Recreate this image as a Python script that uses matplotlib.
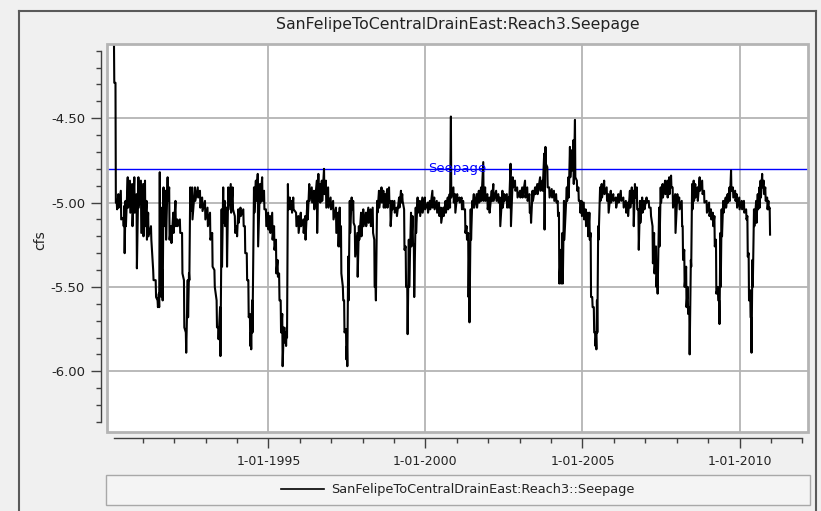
import matplotlib
matplotlib.use("Agg")
import matplotlib.pyplot as plt
from matplotlib.patches import Rectangle
from matplotlib.lines import Line2D
from matplotlib.ticker import FixedLocator, FuncFormatter
import numpy as np

title = "SanFelipeToCentralDrainEast:Reach3.Seepage"
series_name = "SanFelipeToCentralDrainEast:Reach3::Seepage"
threshold = -4.80
threshold_label = "Seepage"
year_ticks = [1995, 2000, 2005, 2010]
year_labels = ["1-01-1995", "1-01-2000", "1-01-2005", "1-01-2010"]
y_ticks = [-6.00, -5.50, -5.00, -4.50]

# decimal year, with the upper and lower edge of the daily band at that date
t = [
    1990.08, 1990.13, 1990.17, 1990.22, 1990.30, 1990.38, 1990.41, 1990.45, 1990.52, 1990.59, 1990.66, 1990.73, 1990.80, 1990.86, 1990.94,
    1991.01, 1991.07, 1991.12, 1991.17, 1991.26, 1991.33, 1991.41, 1991.47, 1991.51, 1991.54, 1991.58, 1991.62, 1991.66, 1991.73, 1991.79, 1991.84, 1991.90, 1991.97,
    1992.04, 1992.10, 1992.18, 1992.25, 1992.31, 1992.37, 1992.43, 1992.47, 1992.51, 1992.57, 1992.66, 1992.75, 1992.82, 1992.89, 1992.98,
    1993.06, 1993.14, 1993.21, 1993.28, 1993.35, 1993.40, 1993.46, 1993.51, 1993.56, 1993.61, 1993.67, 1993.72, 1993.80, 1993.86, 1993.93, 1993.99,
    1994.04, 1994.11, 1994.20, 1994.25, 1994.31, 1994.36, 1994.41, 1994.44, 1994.48, 1994.54, 1994.60, 1994.66, 1994.73, 1994.80, 1994.86, 1994.92, 1994.99,
    1995.05, 1995.12, 1995.18, 1995.24, 1995.29, 1995.34, 1995.39, 1995.44, 1995.49, 1995.55, 1995.58, 1995.62, 1995.68, 1995.74, 1995.79, 1995.88, 1995.95,
    1996.03, 1996.11, 1996.17, 1996.24, 1996.30, 1996.38, 1996.45, 1996.54, 1996.59, 1996.64, 1996.70, 1996.77, 1996.83, 1996.90, 1996.98,
    1997.06, 1997.15, 1997.22, 1997.27, 1997.31, 1997.37, 1997.41, 1997.47, 1997.50, 1997.54, 1997.59, 1997.65, 1997.70, 1997.75, 1997.83, 1997.88, 1997.95,
    1998.02, 1998.10, 1998.18, 1998.25, 1998.32, 1998.37, 1998.41, 1998.46, 1998.52, 1998.60, 1998.66, 1998.71, 1998.78, 1998.84, 1998.88, 1998.94,
    1999.01, 1999.08, 1999.16, 1999.22, 1999.26, 1999.32, 1999.37, 1999.42, 1999.47, 1999.54, 1999.59, 1999.63, 1999.69, 1999.75, 1999.82, 1999.90, 1999.98,
    2000.07, 2000.14, 2000.22, 2000.28, 2000.36, 2000.43, 2000.49, 2000.57, 2000.64, 2000.71, 2000.77, 2000.81, 2000.89, 2000.94,
    2001.01, 2001.08, 2001.15, 2001.20, 2001.26, 2001.31, 2001.36, 2001.39, 2001.44, 2001.49, 2001.54, 2001.63, 2001.70, 2001.77, 2001.84, 2001.90, 2001.97,
    2002.03, 2002.11, 2002.16, 2002.25, 2002.32, 2002.37, 2002.45, 2002.51, 2002.59, 2002.65, 2002.71, 2002.78, 2002.85, 2002.92,
    2003.01, 2003.08, 2003.17, 2003.24, 2003.31, 2003.35, 2003.41, 2003.49, 2003.56, 2003.65, 2003.72, 2003.78, 2003.82, 2003.88, 2003.94,
    2004.02, 2004.09, 2004.16, 2004.21, 2004.25, 2004.31, 2004.36, 2004.41, 2004.50, 2004.55, 2004.60, 2004.66, 2004.71, 2004.76, 2004.82, 2004.87, 2004.92, 2004.97,
    2005.04, 2005.10, 2005.17, 2005.22, 2005.26, 2005.31, 2005.36, 2005.40, 2005.43, 2005.46, 2005.50, 2005.56, 2005.61, 2005.69, 2005.77, 2005.82, 2005.90, 2005.98,
    2006.06, 2006.14, 2006.22, 2006.30, 2006.38, 2006.44, 2006.51, 2006.57, 2006.62, 2006.67, 2006.73, 2006.78, 2006.83, 2006.90, 2006.96,
    2007.04, 2007.11, 2007.17, 2007.23, 2007.28, 2007.34, 2007.38, 2007.44, 2007.49, 2007.55, 2007.63, 2007.70, 2007.76, 2007.82, 2007.87, 2007.95,
    2008.02, 2008.08, 2008.16, 2008.19, 2008.24, 2008.30, 2008.35, 2008.40, 2008.45, 2008.49, 2008.54, 2008.59, 2008.66, 2008.73, 2008.81, 2008.87, 2008.95,
    2009.03, 2009.09, 2009.15, 2009.20, 2009.25, 2009.31, 2009.35, 2009.39, 2009.43, 2009.48, 2009.56, 2009.62, 2009.68, 2009.73, 2009.79, 2009.86, 2009.91, 2009.99,
    2010.07, 2010.14, 2010.21, 2010.25, 2010.29, 2010.34, 2010.37, 2010.41, 2010.46, 2010.53, 2010.58, 2010.63, 2010.67, 2010.72, 2010.77, 2010.82, 2010.88, 2010.92, 2010.96,
]
hi = [
    -4.00, -4.29, -5.00, -4.95, -4.93, -5.09, -5.02, -4.99, -4.85, -4.87, -4.89, -4.85, -4.95, -4.85, -4.87,
    -4.89, -4.87, -4.99, -5.06, -5.14, -5.40, -5.46, -5.58, -5.54, -4.82, -5.03, -5.40, -4.91, -4.93, -4.85, -4.91, -5.14, -5.06,
    -4.99, -5.10, -5.10, -5.18, -5.46, -5.77, -5.46, -5.42, -4.91, -4.91, -4.91, -4.91, -4.93, -4.97, -4.99,
    -5.03, -5.06, -5.18, -5.40, -5.58, -5.74, -5.62, -5.04, -4.91, -4.99, -5.03, -4.91, -4.89, -4.91, -5.08, -5.14,
    -5.04, -5.03, -5.04, -5.14, -5.30, -5.46, -5.66, -5.77, -5.58, -4.91, -4.87, -4.83, -4.89, -4.85, -4.93, -5.04, -5.06,
    -5.08, -5.06, -5.14, -5.22, -5.34, -5.42, -5.58, -5.66, -5.74, -5.77, -5.74, -4.89, -4.97, -4.99, -4.97, -5.06, -5.08,
    -5.06, -5.10, -5.08, -4.99, -4.89, -4.91, -4.93, -4.87, -4.83, -4.89, -4.87, -4.80, -4.87, -4.91, -4.97,
    -4.99, -5.03, -5.06, -5.03, -5.14, -5.50, -5.58, -5.75, -5.85, -5.32, -4.99, -4.97, -4.99, -5.14, -5.18, -5.14, -5.06,
    -5.04, -5.06, -5.03, -5.04, -5.03, -5.22, -5.50, -4.99, -4.93, -4.91, -4.93, -4.95, -4.92, -4.91, -4.99, -4.99,
    -4.99, -5.03, -4.97, -4.93, -4.95, -5.04, -5.26, -5.50, -5.22, -5.06, -5.08, -5.26, -5.03, -4.97, -4.99, -4.97, -4.97,
    -5.00, -4.99, -4.93, -4.97, -4.99, -5.00, -5.03, -5.03, -4.99, -4.97, -4.95, -4.49, -4.91, -4.95,
    -4.95, -4.97, -4.97, -4.99, -5.04, -5.14, -5.18, -5.30, -5.04, -4.99, -4.95, -4.95, -4.93, -4.91, -4.76, -4.91, -4.95,
    -4.97, -4.93, -4.89, -4.93, -4.95, -4.97, -4.93, -4.95, -4.95, -4.97, -4.77, -4.85, -4.87, -4.91,
    -4.93, -4.91, -4.87, -4.91, -4.95, -5.04, -4.93, -4.91, -4.89, -4.85, -4.87, -4.71, -4.67, -4.79, -4.91,
    -4.92, -4.93, -4.95, -4.99, -5.06, -5.28, -5.18, -4.99, -4.91, -4.85, -4.67, -4.69, -4.63, -4.51, -4.87, -4.91, -4.99, -4.99,
    -5.00, -5.04, -5.06, -5.06, -5.18, -5.56, -5.62, -5.77, -5.80, -5.58, -5.14, -4.91, -4.89, -4.87, -4.91, -4.95, -4.93, -4.95,
    -4.97, -4.95, -4.93, -4.97, -4.99, -5.00, -4.93, -4.91, -4.93, -4.89, -4.91, -5.04, -4.99, -4.97, -4.99,
    -4.97, -4.99, -5.03, -5.14, -5.18, -5.26, -5.40, -5.03, -4.91, -4.89, -4.87, -4.87, -4.85, -4.84, -4.91, -4.95,
    -4.95, -4.97, -4.99, -5.14, -5.28, -5.38, -5.50, -5.62, -5.34, -4.89, -4.87, -4.89, -4.91, -4.85, -4.87, -4.93, -4.99,
    -5.00, -5.04, -5.06, -5.08, -5.22, -5.50, -5.58, -5.18, -5.04, -4.99, -4.97, -4.95, -4.91, -4.81, -4.91, -4.93, -4.95, -4.97,
    -4.99, -4.99, -5.04, -5.08, -5.30, -5.52, -5.68, -5.34, -5.04, -4.99, -4.95, -4.91, -4.87, -4.83, -4.87, -4.91, -4.97, -4.99, -5.03,
]
lo = [
    -4.29, -5.00, -5.04, -5.03, -5.10, -5.14, -5.30, -5.14, -5.03, -5.06, -5.14, -5.06, -5.39, -5.03, -5.18,
    -5.20, -5.14, -5.22, -5.20, -5.22, -5.46, -5.56, -5.62, -5.62, -5.30, -5.56, -5.58, -5.14, -5.22, -4.99, -5.22, -5.24, -5.18,
    -5.14, -5.14, -5.18, -5.42, -5.74, -5.89, -5.68, -5.46, -5.05, -5.10, -4.99, -4.97, -5.03, -5.05, -5.10,
    -5.14, -5.22, -5.38, -5.50, -5.74, -5.81, -5.91, -5.38, -5.12, -5.14, -5.38, -5.04, -5.06, -5.04, -5.18, -5.20,
    -5.12, -5.08, -5.14, -5.30, -5.46, -5.68, -5.85, -5.87, -5.77, -5.06, -4.99, -5.26, -5.00, -4.99, -5.04, -5.14, -5.16,
    -5.18, -5.22, -5.28, -5.42, -5.44, -5.58, -5.77, -5.97, -5.83, -5.85, -5.80, -5.04, -5.04, -5.06, -5.04, -5.14, -5.18,
    -5.14, -5.18, -5.22, -5.10, -4.99, -5.00, -5.04, -5.18, -4.99, -5.00, -4.99, -4.95, -5.03, -5.03, -5.04,
    -5.10, -5.18, -5.26, -5.26, -5.42, -5.58, -5.77, -5.93, -5.97, -5.58, -5.18, -5.04, -5.12, -5.32, -5.44, -5.22, -5.20,
    -5.14, -5.14, -5.12, -5.14, -5.18, -5.50, -5.58, -5.06, -5.03, -5.00, -5.03, -5.03, -5.03, -5.00, -5.14, -5.04,
    -5.06, -5.08, -5.03, -5.00, -4.99, -5.28, -5.50, -5.78, -5.50, -5.26, -5.24, -5.56, -5.18, -5.06, -5.08, -5.06, -5.04,
    -5.06, -5.04, -5.03, -5.04, -5.06, -5.08, -5.12, -5.08, -5.06, -5.04, -5.03, -4.97, -5.00, -5.06,
    -4.99, -5.00, -5.04, -5.04, -5.18, -5.22, -5.56, -5.71, -5.22, -5.03, -5.03, -5.03, -5.00, -4.99, -4.99, -4.99, -5.04,
    -5.06, -4.99, -4.99, -4.99, -5.00, -5.14, -5.03, -4.99, -5.03, -5.03, -5.14, -4.91, -4.93, -4.97,
    -4.97, -4.97, -4.97, -4.99, -5.06, -5.12, -4.99, -4.95, -4.95, -4.93, -4.93, -5.16, -4.77, -4.91, -4.97,
    -4.97, -4.99, -5.00, -5.08, -5.48, -5.48, -5.48, -5.22, -4.99, -4.97, -4.85, -4.81, -4.89, -4.85, -4.93, -4.99, -5.06, -5.08,
    -5.10, -5.14, -5.20, -5.22, -5.56, -5.62, -5.77, -5.85, -5.87, -5.77, -5.22, -4.99, -4.97, -4.95, -4.99, -5.06, -5.00, -4.99,
    -5.03, -5.00, -4.99, -5.03, -5.06, -5.08, -5.03, -5.00, -5.14, -4.97, -5.04, -5.28, -5.12, -5.06, -5.04,
    -5.00, -5.03, -5.08, -5.36, -5.42, -5.50, -5.54, -5.26, -5.00, -4.97, -4.95, -4.97, -4.95, -4.91, -5.03, -5.18,
    -5.00, -5.04, -5.14, -5.34, -5.50, -5.62, -5.66, -5.90, -5.38, -5.04, -4.99, -4.97, -4.99, -4.93, -4.95, -5.00, -5.06,
    -5.08, -5.10, -5.14, -5.26, -5.54, -5.58, -5.72, -5.50, -5.20, -5.06, -5.03, -5.00, -4.99, -4.93, -4.97, -4.99, -5.03, -5.04,
    -5.04, -5.06, -5.10, -5.32, -5.58, -5.68, -5.89, -5.50, -5.14, -5.12, -5.04, -5.03, -4.97, -4.91, -4.95, -4.99, -5.04, -5.04, -5.19,
]

# the daily noise: go from the upper edge down to the lower edge at every date
tt = np.column_stack([t, np.array(t) + 0.012]).ravel()
vv = np.column_stack([hi, lo]).ravel()

W, H = 821, 511
fig = plt.figure(figsize=(W / 100, H / 100), dpi=100, facecolor="#f0f0f0")
ax = fig.add_axes([107 / W, 1 - 432 / H, 701 / W, 388 / H])
ax.set_facecolor("white")

ax.plot(tt, vv, color="black", lw=1.5, zorder=3)
ax.axhline(threshold, color="#0000ff", lw=1.0, zorder=2)
ax.text(0.5, threshold, threshold_label, transform=ax.get_yaxis_transform(),
        ha="center", va="center", color="#0000ff", fontsize=9.5, zorder=4)

ax.set_xlim(1989.86, 2012.18)
ax.set_ylim(-6.36, -4.06)

ax.set_xticks(year_ticks)
ax.set_xticklabels(year_labels)
ax.xaxis.set_minor_locator(FixedLocator([y for y in range(1991, 2013) if y not in year_ticks]))
ax.set_yticks(y_ticks)
ax.yaxis.set_major_formatter(FuncFormatter(lambda v, p: "%.2f" % v))
ax.yaxis.set_minor_locator(FixedLocator(np.round(np.arange(-6.3, -4.05, 0.1), 2)))

ax.grid(True, which="major", color="#b4b4b4", lw=1.3, zorder=1)
ax.set_axisbelow(True)

for s in ["top", "right"]:
    ax.spines[s].set_visible(False)
ax.spines["left"].set_position(("outward", 4))
ax.spines["bottom"].set_position(("outward", 4.3))
ax.spines["left"].set_bounds(-6.3, -4.1)
ax.spines["bottom"].set_bounds(1990.08, 2012.0)
for s in ["left", "bottom"]:
    ax.spines[s].set_color("#404040")
    ax.spines[s].set_linewidth(1.0)

ax.tick_params(which="major", length=7.5, width=1, color="#404040",
               labelsize=9, labelcolor="#222222")
ax.tick_params(axis="y", which="major", labelsize=9.5, pad=4.3)
ax.tick_params(axis="x", which="major", pad=5)
ax.tick_params(which="minor", length=3.6, width=1, color="#404040")

# gray frame round the plotting area
ax.add_patch(Rectangle((0, 0), 1, 1, transform=ax.transAxes, fill=False,
                       edgecolor="#b4b4b4", lw=2, clip_on=False, zorder=5))

fig.text(458 / W, 1 - 24 / H, title, ha="center", va="center",
         fontsize=11.3, color="#222222")
fig.text(40 / W, 1 - 240 / H, "cfs", rotation=90, ha="center", va="center",
         fontsize=10, color="#222222")

# legend box under the axis
fig.patches.append(Rectangle((106 / W, 1 - 505 / H), 704 / W, 30 / H,
                             transform=fig.transFigure, facecolor="#f4f4f4",
                             edgecolor="#a8a8a8", lw=1))
fig.legend(handles=[Line2D([], [], color="black", lw=1.2, label=series_name)],
           loc="center", bbox_to_anchor=(458 / W, 1 - 490 / H), frameon=False,
           fontsize=9.3, handlelength=3.3, handletextpad=0.6,
           labelcolor="#222222")

# outer window frame
frame_kw = dict(transform=fig.transFigure, color="#5a5a5a", lw=1.5)
fig.add_artist(Line2D([19 / W, 19 / W], [0, 1 - 11 / H], **frame_kw))
fig.add_artist(Line2D([19 / W, 816 / W], [1 - 11 / H, 1 - 11 / H], **frame_kw))
fig.add_artist(Line2D([816 / W, 816 / W], [0, 1 - 11 / H], **frame_kw))

fig.savefig("out.png", dpi=100, facecolor=fig.get_facecolor())
